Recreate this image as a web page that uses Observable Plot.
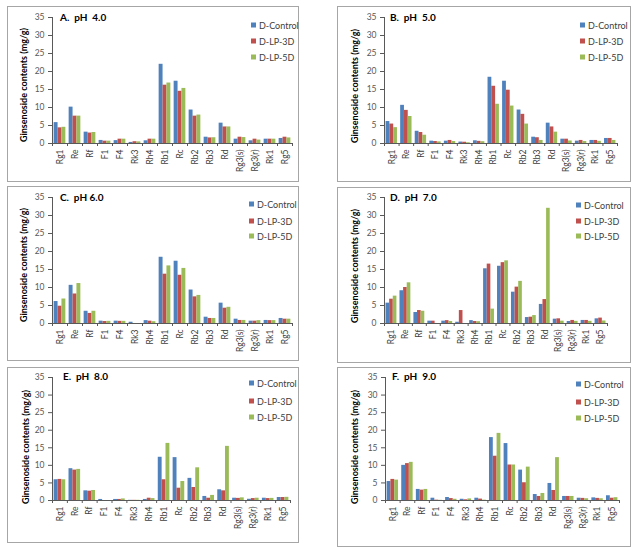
<!DOCTYPE html>
<html><head><meta charset="utf-8">
<script src="https://cdn.jsdelivr.net/npm/d3@7"></script>
<script src="https://cdn.jsdelivr.net/npm/@observablehq/plot@0.6"></script>
<style>
body{margin:0;background:#fff;font-family:Lato,"Open Sans",sans-serif}
#wrap{position:relative;width:634px;height:548px;overflow:hidden}
.panel{position:absolute;border:1px solid #a6a6a6;box-sizing:border-box;background:#fff}
.panel svg{position:absolute;left:0;top:0}
.title{position:absolute;font-weight:bold;font-size:10px;color:#000;white-space:pre;transform:translateY(-50%)}
.ytitle{position:absolute;font-weight:bold;font-size:9px;color:#000;white-space:nowrap;transform:translate(-50%,-50%) rotate(-90deg)}
.leg{position:absolute;font-size:9px;color:#404040;white-space:nowrap;transform:translateY(-50%);display:flex;align-items:center}
.leg span.sw{display:inline-block;width:5px;height:5px;margin-right:3px}
</style></head>
<body><div id="wrap"></div>
<script>
const categories = ["Rg1","Re","Rf","F1","F4","Rk3","Rh4","Rb1","Rc","Rb2","Rb3","Rd","Rg3(s)","Rg3(r)","Rk1","Rg5"];
const seriesNames = ["D-Control","D-LP-3D","D-LP-5D"];
const seriesColors = ["#4F81BD","#C0504D","#9BBB59"];
const yTicks = [0,5,10,15,20,25,30,35];
const yTitle = "Ginsenoside contents (mg/g)";
const panelTitles = ["A.  pH  4.0","B.  pH  5.0","C.  pH 6.0","D.  pH  7.0","E.  pH  8.0","F.  pH  9.0"];

// pH 4.0
const pH4_control = [5.8,10.1,3.15,0.85,0.8,0.3,0.75,22.0,17.3,9.3,1.75,5.65,1.2,0.75,1.2,1.4];
const pH4_lp3d    = [4.35,7.6,2.9,0.65,1.2,0.5,1.2,16.2,14.5,7.6,1.55,4.6,1.75,1.2,1.2,1.75];
const pH4_lp5d    = [4.5,7.6,3.05,0.65,1.2,0.45,1.2,16.8,15.3,7.9,1.6,4.6,1.65,0.95,1.2,1.55];
// pH 5.0
const pH5_control = [6.1,10.6,3.4,0.65,0.65,0.4,0.75,18.4,17.3,9.3,1.75,5.65,1.2,0.65,0.85,1.4];
const pH5_lp3d    = [5.4,9.2,3.05,0.55,0.85,0.35,0.6,15.9,14.8,8.1,1.6,4.6,1.2,0.85,0.85,1.4];
const pH5_lp5d    = [4.4,7.5,2.3,0.45,0.55,0.2,0.5,10.9,10.4,5.4,0.85,3.15,0.7,0.55,0.6,0.85];
// pH 6.0
const pH6_control = [6.1,10.6,3.4,0.65,0.65,0.35,0.8,18.4,17.3,9.3,1.75,5.65,1.2,0.65,0.85,1.4];
const pH6_lp3d    = [4.8,8.2,2.8,0.55,0.6,0,0.65,13.7,13.4,7.4,1.4,4.25,0.85,0.65,0.8,1.2];
const pH6_lp5d    = [6.8,11.1,3.4,0.6,0.6,0,0.5,16.0,15.3,7.8,1.4,4.5,0.85,0.8,0.8,1.2];
// pH 7.0
const pH7_control = [5.65,9.1,3.05,0.65,0.65,0.35,0.8,15.2,15.9,8.7,1.65,5.3,1.2,0.55,0.85,1.3];
const pH7_lp3d    = [6.75,10.0,3.6,0.65,0.8,3.6,0.55,16.5,16.9,10.1,1.75,6.65,1.3,0.85,0.85,1.5];
const pH7_lp5d    = [7.6,11.3,3.4,0,0.55,0,0.5,4.0,17.4,11.7,2.2,32.0,0.65,0.6,0.6,0.7];
// pH 8.0
const pH8_control = [5.9,9.05,2.75,0.3,0.3,0.05,0.3,12.3,12.2,6.3,1.15,3.05,0.65,0.35,0.65,0.85];
const pH8_lp3d    = [6.0,8.65,2.65,0,0.3,0.05,0.65,5.9,3.5,3.7,0.65,2.75,0.6,0.55,0.55,0.85];
const pH8_lp5d    = [5.9,8.85,2.85,0,0.45,0.05,0.55,16.25,5.4,9.3,1.45,15.4,0.75,0.65,0.6,0.9];
// pH 9.0
const pH9_control = [5.4,10.0,3.15,0.65,0.85,0.35,0.65,17.9,16.2,8.65,1.7,4.85,1.15,0.65,0.75,1.35];
const pH9_lp3d    = [6.0,10.5,2.95,0.1,0.55,0.2,0.4,12.6,10.1,5.05,1.15,2.85,1.15,0.6,0.6,0.65];
const pH9_lp5d    = [5.8,10.85,3.15,0.05,0.35,0.45,0.1,19.1,10.1,9.5,2.0,12.2,1.15,0.5,0.5,0.8];

const panelValues = [
  [pH4_control,pH4_lp3d,pH4_lp5d],
  [pH5_control,pH5_lp3d,pH5_lp5d],
  [pH6_control,pH6_lp3d,pH6_lp5d],
  [pH7_control,pH7_lp3d,pH7_lp5d],
  [pH8_control,pH8_lp3d,pH8_lp5d],
  [pH9_control,pH9_lp3d,pH9_lp5d]
];

// layout (box position/size, plot margins, overlay positions)
const layout = [
  {l:7,t:6,w:292,h:176,mL:44,mR:6,mT:10,mB:38,tx:52,ty:10,yx:15,yy:78,lx:246,ly:[18,34,50]},
  {l:337,t:6,w:294,h:176,mL:46,mR:13,mT:10,mB:38,tx:52,ty:10,yx:16,yy:79,lx:245,ly:[18,34,50]},
  {l:7,t:186,w:292,h:175,mL:44,mR:6,mT:10,mB:37,tx:52,ty:10,yx:15,yy:78,lx:244,ly:[17,34,49]},
  {l:337,t:187,w:294,h:176,mL:46,mR:23,mT:9,mB:39,tx:52,ty:9,yx:16,yy:78,lx:241,ly:[17,33,48]},
  {l:7,t:367,w:292,h:176,mL:44,mR:8,mT:9,mB:42,tx:55,ty:8,yx:17,yy:79,lx:244,ly:[15,33,49]},
  {l:337,t:367,w:294,h:180,mL:47,mR:11,mT:9,mB:46,tx:54,ty:8,yx:16,yy:79,lx:241,ly:[16,34,50]}
];

const wrap = document.getElementById("wrap");
const groupOffset = 0.11, barW = 0.26;

panelValues.forEach((vals, p) => {
  const L = layout[p];
  const rows = [];
  vals.forEach((arr, s) => arr.forEach((v, i) => rows.push({i, s, series: seriesNames[s], value: v})));
  const box = document.createElement("div");
  box.className = "panel";
  Object.assign(box.style, {left: L.l + "px", top: L.t + "px", width: L.w + "px", height: L.h + "px"});
  const chart = Plot.plot({
    width: L.w - 2, height: L.h - 2,
    marginLeft: L.mL, marginRight: L.mR, marginTop: L.mT, marginBottom: L.mB,
    style: {fontFamily: "Lato, 'Open Sans', sans-serif", fontSize: "8.5px", color: "#595959", background: "transparent", overflow: "visible"},
    x: {domain: [0, categories.length], ticks: d3.range(categories.length + 1), tickFormat: () => "", tickSize: 3, label: null, line: true},
    y: {domain: [0, 35], ticks: yTicks, tickSize: 4, tickPadding: 4, label: null, line: true},
    color: {domain: seriesNames, range: seriesColors},
    marks: [
      Plot.rect(rows, {
        x1: d => d.i + groupOffset + d.s * barW,
        x2: d => d.i + groupOffset + (d.s + 1) * barW,
        y1: 0, y2: "value", fill: "series"
      }),
      Plot.text(categories, {
        x: (d, i) => i + 0.5, y: 0, text: d => d,
        rotate: -90, textAnchor: "end", dy: 6, fill: "#404040", fontSize: 8.5
      })
    ]
  });
  box.appendChild(chart);
  const title = document.createElement("div");
  title.className = "title"; title.textContent = panelTitles[p];
  Object.assign(title.style, {left: L.tx + "px", top: L.ty + "px"});
  box.appendChild(title);
  const yt = document.createElement("div");
  yt.className = "ytitle"; yt.textContent = yTitle;
  Object.assign(yt.style, {left: L.yx + "px", top: L.yy + "px"});
  box.appendChild(yt);
  seriesNames.forEach((name, s) => {
    const lg = document.createElement("div");
    lg.className = "leg";
    Object.assign(lg.style, {left: (L.lx - 3) + "px", top: L.ly[s] + "px"});
    const sw = document.createElement("span");
    sw.className = "sw"; sw.style.background = seriesColors[s];
    lg.appendChild(sw);
    lg.appendChild(document.createTextNode(name));
    box.appendChild(lg);
  });
  wrap.appendChild(box);
});
</script></body></html>
